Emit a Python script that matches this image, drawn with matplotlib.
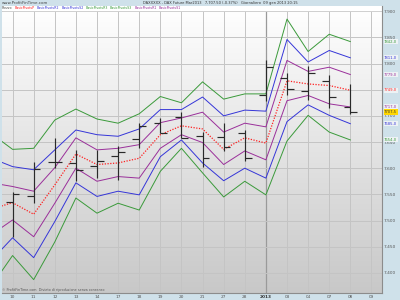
import numpy as np
import matplotlib
matplotlib.use("Agg")
import matplotlib.pyplot as plt
from matplotlib.colors import LinearSegmentedColormap
from matplotlib.ticker import FuncFormatter, MultipleLocator

# trading days shown on the x axis
dates = ["10", "11", "12", "13", "14", "17", "18", "19", "20", "21",
         "27", "28", "2013", "03", "04", "07", "08", "09"]

# pivot levels, first value is the previous day (07 dic) just off the left edge
r3 = [7666, 7636, 7638, 7692, 7713, 7694, 7686, 7704, 7737, 7725, 7765, 7732, 7742, 7742, 7885, 7823, 7856, 7842]
r2 = [7619, 7603, 7597, 7635, 7673, 7664, 7661, 7675, 7712, 7712, 7736, 7700, 7711, 7709, 7846, 7803, 7825, 7811]
r1 = [7572, 7565, 7556, 7601, 7658, 7635, 7638, 7645, 7687, 7696, 7707, 7669, 7686, 7679, 7806, 7785, 7793, 7779]
pp = [7522, 7534, 7512, 7568, 7627, 7607, 7610, 7619, 7664, 7681, 7675, 7636, 7658, 7648, 7767, 7761, 7758, 7749]
s1 = [7473, 7501, 7469, 7533, 7600, 7575, 7584, 7581, 7638, 7664, 7649, 7607, 7633, 7616, 7729, 7739, 7723, 7717]
s2 = [7424, 7467, 7429, 7498, 7572, 7546, 7556, 7549, 7622, 7654, 7610, 7576, 7600, 7581, 7689, 7721, 7701, 7685]
s3 = [7375, 7433, 7387, 7459, 7543, 7514, 7533, 7520, 7594, 7638, 7591, 7545, 7575, 7549, 7652, 7701, 7669, 7654]

# daily OHLC bars (10 dic .. 08 gen)
op = [7536, 7546, 7612, 7610, 7605, 7624, 7656, 7686, 7698, 7661, 7660, 7667, 7740, 7772, 7748, 7767, 7717]
hi = [7554, 7611, 7658, 7635, 7635, 7642, 7686, 7696, 7708, 7670, 7686, 7673, 7807, 7782, 7795, 7779, 7760]
lo = [7469, 7533, 7600, 7575, 7581, 7578, 7638, 7667, 7658, 7603, 7632, 7613, 7728, 7740, 7731, 7715, 7704]
cl = [7551, 7598, 7612, 7597, 7613, 7631, 7681, 7667, 7658, 7619, 7640, 7619, 7793, 7751, 7782, 7737, 7707.5]

GREEN = "#3a9a3a"
BLUE = "#3535d8"
PURPLE = "#9a2f9a"
RED = "#ff2020"

def fmt_price(v, pos=None):
    return f"{v:,.0f}".replace(",", ".")

def fmt_last(v):
    return f"{v:.1f}".replace(".", ",")

fig = plt.figure(figsize=(4, 3), dpi=100, facecolor="#cfe1ea")
ax = fig.add_axes([2 / 400, 1 - 292.7 / 300, 380 / 400, 286.7 / 300])

ymin, ymax = 7362, 7910
ax.set_xlim(-0.5, len(dates) - 0.5)
ax.set_ylim(ymin, ymax)

# grey gradient background
cmap = LinearSegmentedColormap.from_list("bg", ["#c8c8c8", "#ffffff"])
ax.imshow(np.linspace(0, 1, 256).reshape(-1, 1), cmap=cmap, origin="lower",
          extent=(-0.5, len(dates) - 0.5, ymin, ymax), aspect="auto", zorder=0)

# grid
for i, d in enumerate(dates):
    ax.axvline(i, color="#9a9a9a" if d == "2013" else "#c4c4c4", lw=0.9 if d == "2013" else 0.7, zorder=1)
for v in range(7400, 7901, 50):
    ax.axhline(v, color="#c4c4c4", lw=0.7, zorder=1)

# pivot lines
xl = np.arange(-1, len(r3) - 1)
ax.plot(xl, r3, color=GREEN, lw=0.7, zorder=3)
ax.plot(xl, s3, color=GREEN, lw=0.7, zorder=3)
ax.plot(xl, r2, color=BLUE, lw=0.7, zorder=3)
ax.plot(xl, s2, color=BLUE, lw=0.7, zorder=3)
ax.plot(xl, r1, color=PURPLE, lw=0.7, zorder=3)
ax.plot(xl, s1, color=PURPLE, lw=0.7, zorder=3)
ax.plot(xl, pp, color=RED, lw=0.9, ls=(0, (1, 1.2)), zorder=3)

# OHLC bars
xb = np.arange(len(op))
ax.vlines(xb, lo, hi, color="#2a2a2a", lw=0.85, zorder=4)
ax.hlines(op, xb - 0.32, xb, color="#2a2a2a", lw=0.85, zorder=4)
ax.hlines(cl, xb, xb + 0.32, color="#2a2a2a", lw=0.85, zorder=4)

# axes styling
for s in ["top", "left"]:
    ax.spines[s].set_visible(False)
ax.spines["right"].set_color("#8c8c8c")
ax.spines["bottom"].set_color("#8c8c8c")
ax.yaxis.tick_right()
ax.yaxis.set_major_locator(MultipleLocator(50))
ax.yaxis.set_major_formatter(FuncFormatter(fmt_price))
ax.tick_params(axis="y", length=0, pad=1.5, labelsize=3.1, labelcolor="#555555")
ax.set_xticks(range(len(dates)))
ax.set_xticklabels(dates)
ax.tick_params(axis="x", length=0, pad=1.5, labelsize=3.1, labelcolor="#555555")
for lab in ax.get_xticklabels():
    if lab.get_text() == "2013":
        lab.set_fontweight("bold")
        lab.set_color("#333333")

# last value labels on the right
last = [(r3[-1], GREEN), (r2[-1], BLUE), (r1[-1], PURPLE), (pp[-1], RED),
        (s1[-1], PURPLE), (s2[-1], BLUE), (s3[-1], GREEN)]
for v, c in last:
    ax.annotate(fmt_last(v), xy=(1, v), xycoords=("axes fraction", "data"), xytext=(1.5, 0),
                textcoords="offset points", fontsize=2.7, color=c, va="center", ha="left",
                bbox=dict(boxstyle="square,pad=0.15", fc="#eef2f4", ec="none"), zorder=6,
                annotation_clip=False)
ax.annotate(fmt_last(cl[-1]), xy=(1, cl[-1]), xycoords=("axes fraction", "data"), xytext=(1.5, 0),
            textcoords="offset points", fontsize=2.7, color="#333333", va="center", ha="left",
            bbox=dict(boxstyle="square,pad=0.15", fc="#ffd700", ec="none"), zorder=7,
            annotation_clip=False)

# header, legend row and footer
fig.text(2 / 400, 1 - 3 / 300, "www.ProfitFinTime.com", fontsize=2.9, color="#444444", va="center")
fig.text(143 / 400, 1 - 3 / 300,
         "DAXXXXX - DAX Future Mar2013   7,707.50 (-0.37%)   Giornaliero  09 gen 2013 20:15",
         fontsize=2.6, color="#333333", va="center")
legend = [("Prezzo", "#444444"), ("BasicPivotsP", RED), ("BasicPivotsR2", BLUE),
          ("BasicPivotsS2", BLUE), ("BasicPivotsR3", GREEN), ("BasicPivotsS3", GREEN),
          ("BasicPivotsR1", PURPLE), ("BasicPivotsS1", PURPLE)]
ax.axhspan(ymax - 8, ymax, color="white", zorder=2)
xpos = 2
for name, c in legend:
    fig.text(xpos / 400, 1 - 8.3 / 300, name, fontsize=2.3, color=c, va="center")
    xpos += len(name) * 1.72 + 2
fig.text(2 / 400, 1 - 290.5 / 300,
         "© ProfitFinTime.com  Divieto di riproduzione senza consenso",
         fontsize=2.4, color="#555555", va="center")

fig.savefig("out.png", dpi=100, facecolor=fig.get_facecolor())
